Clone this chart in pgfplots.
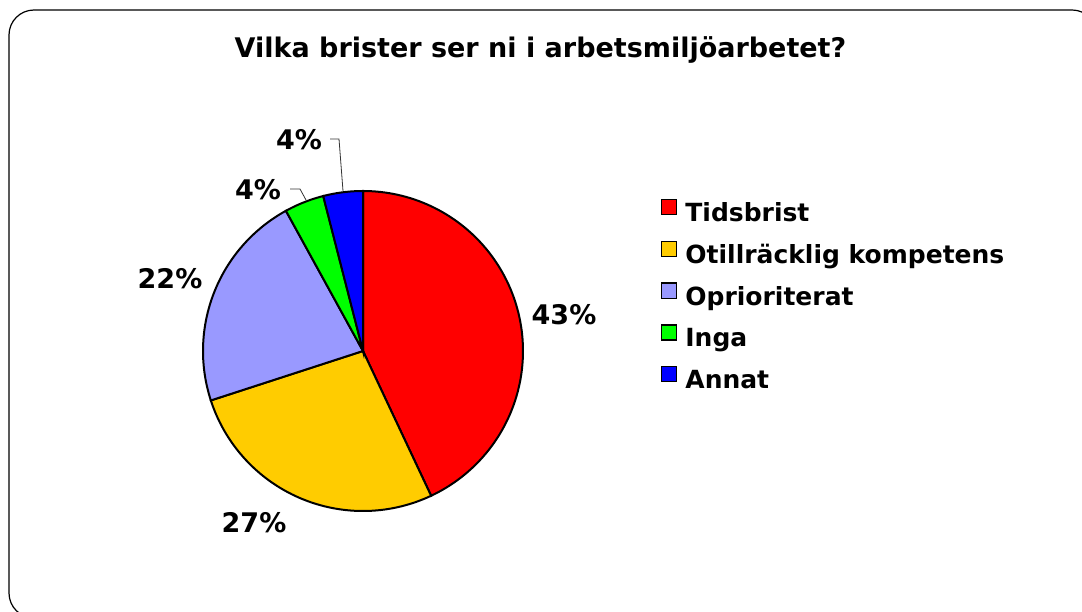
\documentclass[border=0pt]{standalone}
\usepackage{fontspec}
\setmainfont{DejaVu Sans}
\usepackage{pgfplots}
\usepackage{pgfplotstable}
\pgfplotsset{compat=1.18}

\definecolor{pieA}{HTML}{FF0000}
\definecolor{pieB}{HTML}{FFCC00}
\definecolor{pieC}{HTML}{9999FF}
\definecolor{pieD}{HTML}{00FF00}
\definecolor{pieE}{HTML}{0000FF}

\pgfplotstableread{
idx value
0 43
1 27
2 22
3 4
4 4
}\piedata

\pgfplotstablegetelem{0}{value}\of\piedata \edef\va{\pgfplotsretval}
\pgfplotstablegetelem{1}{value}\of\piedata \edef\vb{\pgfplotsretval}
\pgfplotstablegetelem{2}{value}\of\piedata \edef\vc{\pgfplotsretval}
\pgfplotstablegetelem{3}{value}\of\piedata \edef\vd{\pgfplotsretval}
\pgfplotstablegetelem{4}{value}\of\piedata \edef\ve{\pgfplotsretval}
\pgfmathsetmacro\aO{90}
\pgfmathsetmacro\aA{\aO-3.6*\va}
\pgfmathsetmacro\aB{\aA-3.6*\vb}
\pgfmathsetmacro\aC{\aB-3.6*\vc}
\pgfmathsetmacro\aD{\aC-3.6*\vd}
\pgfmathsetmacro\aE{\aD-3.6*\ve}

\tikzset{lbl/.style={font=\fontsize{27}{32}\selectfont\bfseries}}

\begin{document}
\begin{tikzpicture}
\begin{axis}[
  x=1pt, y=1pt, scale only axis,
  xmin=0, xmax=1082, ymin=0, ymax=611,
  hide axis, clip=false,
  legend cell align=left,
  legend image code/.code={\draw[#1, line width=1.2pt] (0pt,0pt) rectangle (15pt,15pt);},
  legend style={at={(axis cs:661,412.5)}, anchor=north west, draw=none, fill=none,
    inner sep=0pt, row sep=13.3pt, column sep=8pt,
    font=\fontsize{25}{30}\selectfont\bfseries,
    nodes={inner sep=0pt, text height=20pt, text depth=6pt}},
]
\coordinate (bl) at (axis cs:0,0);
\coordinate (tr) at (axis cs:1082,611);

\addplot[draw=black, line width=2pt, fill=pieA, domain=\aA:\aO, samples=100, variable=\t]
  ({363+160*cos(t)}, {260+160*sin(t)}) -- (axis cs:363,260) -- cycle;
\addlegendentry{Tidsbrist}
\addplot[draw=black, line width=2pt, fill=pieB, domain=\aB:\aA, samples=80, variable=\t]
  ({363+160*cos(t)}, {260+160*sin(t)}) -- (axis cs:363,260) -- cycle;
\addlegendentry{Otillräcklig kompetens}
\addplot[draw=black, line width=2pt, fill=pieC, domain=\aC:\aB, samples=70, variable=\t]
  ({363+160*cos(t)}, {260+160*sin(t)}) -- (axis cs:363,260) -- cycle;
\addlegendentry{Oprioriterat}
\addplot[draw=black, line width=2pt, fill=pieD, domain=\aD:\aC, samples=20, variable=\t]
  ({363+160*cos(t)}, {260+160*sin(t)}) -- (axis cs:363,260) -- cycle;
\addlegendentry{Inga}
\addplot[draw=black, line width=2pt, fill=pieE, domain=\aE:\aD, samples=20, variable=\t]
  ({363+160*cos(t)}, {260+160*sin(t)}) -- (axis cs:363,260) -- cycle;
\addlegendentry{Annat}

% leader lines
\draw[line width=0.8pt, black!80] (axis cs:330,472) -- (axis cs:339,472) -- (axis cs:343,420);
\draw[line width=0.8pt, black!80] (axis cs:290,422) -- (axis cs:300,422) -- (axis cs:306,411);

% data labels
\node[lbl] at (axis cs:564,296) {43\%};
\node[lbl] at (axis cs:254,88) {27\%};
\node[lbl] at (axis cs:170,332) {22\%};
\node[lbl] at (axis cs:258,421) {4\%};
\node[lbl] at (axis cs:299,471) {4\%};

% title
\node[anchor=base, lbl] at (axis cs:540.5,553) {Vilka brister ser ni i arbetsmiljöarbetet?};

% frame
\draw[line width=1.2pt, rounded corners=25pt] (axis cs:9,-7) rectangle (axis cs:1097,601);
\end{axis}
\pgfresetboundingbox
\path[use as bounding box] (bl) rectangle (tr);
\end{tikzpicture}
\end{document}
